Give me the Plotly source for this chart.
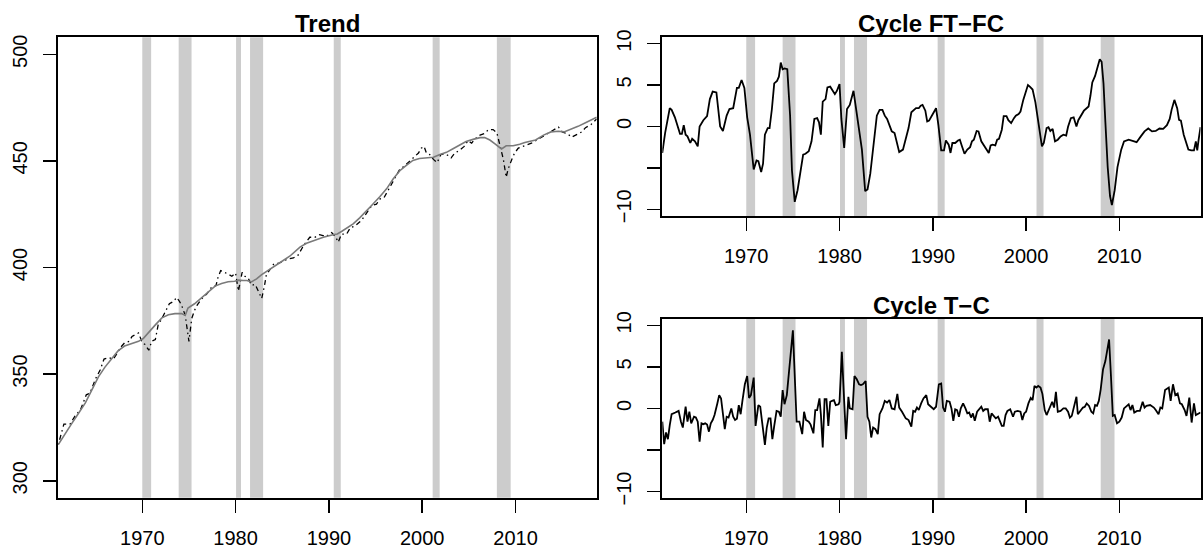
import plotly.graph_objects as go

W, H = 1203, 557

# ---------------- data ----------------
trend_years = [1961.0, 1961.7, 1962.4, 1963.1, 1963.9, 1964.6, 1965.3, 1966.0, 1966.7, 1967.4,
               1968.1, 1968.9, 1969.6, 1970.1, 1970.6, 1971.4, 1972.1, 1972.8, 1973.5, 1974.2,
               1974.6, 1974.9, 1975.6, 1976.4, 1977.1, 1977.8, 1978.5, 1979.2, 1979.9, 1980.3,
               1980.8, 1981.2, 1981.7, 1982.25, 1982.8, 1983.5, 1984.2, 1984.9, 1985.8, 1986.9,
               1987.6, 1988.3, 1989.4, 1990.45, 1990.9, 1991.35, 1991.9, 1992.6, 1993.3, 1994.0,
               1994.7, 1995.45, 1996.2, 1996.9, 1997.6, 1998.3, 1999.0, 1999.7, 2000.45, 2001.2,
               2001.9, 2002.6, 2003.3, 2004.0, 2004.7, 2005.45, 2006.2, 2006.7, 2007.25, 2007.8,
               2008.5, 2009.0, 2009.74, 2010.45, 2011.0, 2012.15, 2013.0, 2013.8, 2014.6, 2015.2,
               2015.85, 2016.7, 2017.5, 2018.1, 2018.7]
trend_values = [317.0, 322.1, 326.6, 331.2, 336.5, 342.6, 348.7, 353.3, 357.1, 360.9,
                363.2, 364.4, 365.4, 366.7, 369.3, 373.1, 376.4, 377.9, 378.4, 378.4,
                377.6, 381.0, 383.0, 386.0, 389.0, 391.3, 392.5, 393.3, 393.6, 394.1,
                393.9, 393.9, 393.3, 394.7, 396.7, 398.6, 400.8, 402.7, 405.3, 409.6,
                411.4, 412.6, 414.2, 415.4, 415.7, 416.9, 418.4, 420.5, 423.3, 426.3,
                429.7, 433.2, 437.0, 441.6, 445.4, 447.9, 450.2, 451.1, 451.4, 451.7,
                453.0, 454.0, 455.7, 457.5, 459.1, 460.1, 460.9, 461.0, 459.8, 458.0,
                455.6, 457.1, 457.1, 457.8, 458.6, 459.8, 462.1, 463.6, 463.9, 463.6,
                464.7, 466.2, 467.9, 469.2, 470.5]

obs_years = [1961.0, 1961.6, 1962.25, 1962.8, 1963.4, 1964.0, 1964.4, 1965.0, 1965.5, 1965.9,
             1966.4, 1966.9, 1967.25, 1967.7, 1968.1, 1968.6, 1968.9, 1969.3, 1969.6, 1970.0,
             1970.3, 1970.7, 1971.0, 1971.4, 1971.7, 1972.1, 1972.5, 1972.9, 1973.3, 1973.7,
             1974.0, 1974.2, 1974.6, 1974.85, 1975.0, 1975.3, 1975.6, 1975.9, 1976.4, 1976.9,
             1977.4, 1977.9, 1978.1, 1978.4, 1978.9, 1979.3, 1979.6, 1980.0, 1980.3, 1980.5,
             1980.7, 1981.0, 1981.35, 1981.7, 1982.1, 1982.5, 1982.8, 1983.1, 1983.3, 1983.8,
             1984.1, 1984.6, 1985.0, 1985.6, 1986.2, 1986.7, 1987.3, 1987.95, 1988.5, 1989.0,
             1989.7, 1990.3, 1990.74, 1991.0, 1991.35, 1991.9, 1992.3, 1992.8, 1993.5, 1994.0,
             1994.6, 1995.1, 1995.45, 1995.9, 1996.35, 1996.7, 1997.1, 1997.6, 1998.1, 1998.85,
             1999.6, 1999.9, 2000.2, 2000.45, 2000.8, 2001.2, 2001.6, 2002.0, 2002.4, 2002.8,
             2003.1, 2003.5, 2004.0, 2004.5, 2004.9, 2005.3, 2005.6, 2006.2, 2006.7, 2007.1,
             2007.6, 2008.0, 2008.3, 2008.7, 2009.0, 2009.2, 2009.6, 2009.9, 2010.3, 2010.8,
             2011.1, 2011.7, 2012.6, 2013.2, 2013.9, 2014.6, 2015.0, 2015.6, 2016.0, 2016.5,
             2017.1, 2017.5, 2018.1, 2018.7]
obs_values = [317.0, 326.6, 326.6, 330.4, 333.5, 340.3, 341.1, 347.9, 352.1, 357.1,
              357.8, 357.1, 359.4, 362.7, 364.7, 365.4, 367.7, 368.5, 369.3, 364.7,
              363.9, 361.2, 365.4, 366.2, 373.1, 376.1, 379.5, 383.0, 384.0, 386.0,
              384.0, 382.5, 377.6, 370.8, 365.4, 376.1, 379.9, 382.5, 385.5, 387.5,
              390.6, 391.6, 395.1, 398.6, 397.7, 396.7, 395.9, 397.4, 389.0, 393.6,
              397.7, 395.9, 395.1, 391.6, 392.1, 388.3, 385.5, 391.6, 396.7, 399.7,
              401.7, 402.0, 402.7, 404.0, 404.5, 405.8, 410.4, 414.2, 414.2, 415.4,
              414.5, 416.4, 414.2, 411.9, 415.7, 415.7, 418.7, 419.5, 422.1, 425.1,
              429.1, 429.7, 432.1, 432.7, 436.2, 438.8, 442.3, 446.1, 447.6, 450.7,
              453.7, 456.0, 456.8, 453.7, 453.0, 450.7, 449.2, 453.0, 453.4, 452.5,
              451.4, 453.7, 454.9, 456.8, 459.5, 458.3, 460.1, 462.1, 462.9, 464.7,
              464.7, 463.2, 457.5, 450.7, 442.3, 446.1, 450.7, 453.7, 456.0, 456.8,
              457.6, 458.3, 460.6, 462.1, 463.9, 465.9, 463.6, 462.6, 461.1, 462.1,
              463.6, 465.6, 467.1, 469.7]

ftfc_years = [1961.0, 1961.3, 1961.8, 1962.0, 1962.35, 1962.75, 1962.9, 1963.1, 1963.3, 1963.5,
              1963.7, 1964.0, 1964.2, 1964.5, 1964.8, 1965.0, 1965.4, 1965.8, 1966.1, 1966.4,
              1966.8, 1967.2, 1967.5, 1967.9, 1968.2, 1968.6, 1969.0, 1969.2, 1969.5, 1969.8,
              1970.1, 1970.4, 1970.8, 1971.1, 1971.3, 1971.6, 1971.8, 1972.0, 1972.3, 1972.5,
              1972.75, 1973.0, 1973.3, 1973.5, 1973.7, 1973.9, 1974.1, 1974.4, 1974.7, 1974.9,
              1975.2, 1975.5, 1975.8, 1976.1, 1976.35, 1976.7, 1977.0, 1977.3, 1977.6, 1977.8,
              1978.0, 1978.2, 1978.5, 1978.7, 1979.0, 1979.2, 1979.5, 1979.7, 1980.0, 1980.2,
              1980.5, 1980.8, 1981.1, 1981.5, 1981.8, 1982.1, 1982.4, 1982.75, 1983.0, 1983.3,
              1983.6, 1984.0, 1984.3, 1984.6, 1984.85, 1985.1, 1985.4, 1985.6, 1985.9, 1986.2,
              1986.4, 1986.8, 1987.1, 1987.4, 1987.7, 1988.0, 1988.2, 1988.5, 1988.7, 1988.9,
              1989.2, 1989.4, 1989.6, 1990.0, 1990.35, 1990.6, 1990.9, 1991.2, 1991.4, 1991.7,
              1991.9, 1992.1, 1992.4, 1992.7, 1992.9, 1993.1, 1993.4, 1993.7, 1994.0, 1994.2,
              1994.4, 1994.7, 1994.9, 1995.2, 1995.5, 1995.7, 1996.0, 1996.2, 1996.4, 1996.7,
              1996.9, 1997.1, 1997.4, 1997.6, 1997.9, 1998.1, 1998.4, 1998.7, 1998.9, 1999.2,
              1999.4, 1999.7, 1999.9, 2000.2, 2000.4, 2000.7, 2001.0, 2001.25, 2001.5, 2001.7,
              2001.9, 2002.2, 2002.4, 2002.6, 2002.85, 2003.1, 2003.4, 2003.7, 2004.0, 2004.3,
              2004.5, 2004.8, 2005.1, 2005.4, 2005.6, 2005.9, 2006.2, 2006.4, 2006.7, 2006.9,
              2007.1, 2007.4, 2007.7, 2007.9, 2008.1, 2008.3, 2008.5, 2008.75, 2009.0, 2009.2,
              2009.5, 2009.8, 2010.2, 2010.5, 2011.0, 2011.4, 2011.85, 2012.3, 2012.7, 2013.1,
              2013.5, 2013.9, 2014.3, 2014.7, 2015.1, 2015.4, 2015.6, 2015.9, 2016.2, 2016.4,
              2016.6, 2016.9, 2017.2, 2017.4, 2017.7, 2018.0, 2018.2, 2018.35, 2018.5, 2018.7]
ftfc_values = [-3.2, -0.8, 2.2, 2.0, 1.1, -0.2, -0.9, -0.9, 0.15, -1.0,
               -1.2, -2.0, -1.5, -1.8, -2.4, 0.0, 0.75, 1.25, 3.3, 4.2,
               4.1, 0.0, -0.55, 1.3, 2.1, 2.2, 4.65, 4.65, 5.6, 4.65,
               1.1, -1.0, -5.2, -4.1, -4.2, -5.5, -4.5, -1.0, -0.2, -0.2,
               2.1, 5.2, 5.5, 6.0, 7.7, 6.9, 7.0, 6.9, 1.3, -5.3,
               -9.1, -7.7, -5.7, -3.4, -3.3, -3.0, -1.8, 0.9, 1.0, 0.5,
               -1.0, 3.0, 3.3, 4.7, 4.8, 4.45, 3.9, 4.25, 5.1, 0.9,
               -2.6, 2.1, 2.6, 4.3, 1.7, -0.2, -2.8, -7.8, -7.6, -5.7,
               -2.6, 1.3, 2.0, 2.0, 1.3, 0.9, 0.0, -0.6, -0.8, -2.4,
               -3.1, -2.8, -1.6, -0.2, 1.7, 2.0, 2.2, 2.2, 2.5, 2.6,
               1.9, 0.6, 0.7, 1.5, 2.2, 0.15, -2.9, -2.9, -1.7, -2.2,
               -3.2, -2.0, -2.0, -1.7, -1.6, -2.3, -3.3, -2.8, -2.5, -1.8,
               -1.6, -0.55, -0.6, -1.8, -2.3, -2.7, -3.2, -2.3, -2.2, -2.3,
               -1.6, -1.5, -0.4, 1.25, 1.25, 0.75, 0.4, 1.0, 1.3, 1.5,
               1.8, 3.2, 3.9, 5.0, 4.8, 4.45, 2.9, 0.9, -1.2, -2.4,
               -2.0, -0.2, -0.1, -0.55, -0.3, -1.8, -1.6, -1.2, -1.0, -1.1,
               -0.05, 1.0, 1.1, 0.0, 0.75, 1.4, 1.9, 2.1, 2.4, 3.7,
               5.3, 6.1, 7.2, 8.1, 7.8, 5.2, 0.55, -4.9, -8.4, -9.5,
               -7.7, -4.9, -2.8, -1.8, -1.6, -1.7, -1.9, -1.2, -0.6, -0.25,
               -0.6, -0.55, -0.25, -0.3, 0.15, 0.9, 2.0, 3.2, 2.2, 0.8,
               0.7, -1.0, -2.0, -2.8, -2.9, -2.9, -1.8, -2.9, -1.6, -0.1]

tc_years = [1961.0, 1961.2, 1961.4, 1961.6, 1961.8, 1962.0, 1962.4, 1962.75, 1963.0, 1963.2,
            1963.5, 1963.7, 1963.9, 1964.1, 1964.4, 1964.6, 1964.8, 1965.0, 1965.2, 1965.4,
            1965.6, 1965.8, 1966.0, 1966.2, 1966.4, 1966.6, 1966.9, 1967.1, 1967.3, 1967.5,
            1967.7, 1967.9, 1968.1, 1968.4, 1968.6, 1968.8, 1969.0, 1969.2, 1969.4, 1969.6,
            1969.85, 1970.1, 1970.3, 1970.5, 1970.8, 1971.0, 1971.3, 1971.5, 1971.7, 1972.0,
            1972.2, 1972.4, 1972.6, 1972.8, 1973.0, 1973.25, 1973.5, 1973.7, 1973.9, 1974.1,
            1974.35, 1974.6, 1974.8, 1975.0, 1975.2, 1975.4, 1975.7, 1976.0, 1976.2, 1976.4,
            1976.7, 1976.9, 1977.2, 1977.4, 1977.6, 1977.85, 1978.0, 1978.2, 1978.4, 1978.6,
            1978.8, 1979.0, 1979.2, 1979.4, 1979.6, 1979.9, 1980.0, 1980.25, 1980.5, 1980.7,
            1980.95, 1981.1, 1981.4, 1981.6, 1981.85, 1982.1, 1982.3, 1982.5, 1982.8, 1983.0,
            1983.2, 1983.4, 1983.6, 1983.85, 1984.1, 1984.3, 1984.6, 1984.85, 1985.1, 1985.35,
            1985.6, 1985.9, 1986.2, 1986.4, 1986.7, 1986.9, 1987.1, 1987.4, 1987.7, 1987.9,
            1988.1, 1988.3, 1988.5, 1988.75, 1989.0, 1989.3, 1989.5, 1989.8, 1990.1, 1990.35,
            1990.65, 1990.9, 1991.1, 1991.3, 1991.5, 1991.8, 1992.0, 1992.2, 1992.4, 1992.6,
            1992.8, 1993.0, 1993.25, 1993.5, 1993.7, 1993.9, 1994.1, 1994.3, 1994.5, 1994.75,
            1995.0, 1995.2, 1995.4, 1995.6, 1995.9, 1996.1, 1996.3, 1996.5, 1996.75, 1997.0,
            1997.2, 1997.4, 1997.6, 1997.8, 1998.0, 1998.3, 1998.6, 1998.8, 1999.1, 1999.4,
            1999.6, 1999.8, 2000.0, 2000.25, 2000.5, 2000.7, 2000.9, 2001.1, 2001.3, 2001.55,
            2001.75, 2002.0, 2002.2, 2002.4, 2002.6, 2002.8, 2003.0, 2003.2, 2003.4, 2003.7,
            2004.0, 2004.25, 2004.5, 2004.7, 2004.9, 2005.1, 2005.4, 2005.55, 2005.8, 2006.1,
            2006.3, 2006.5, 2006.75, 2007.0, 2007.2, 2007.4, 2007.6, 2007.8, 2008.0, 2008.25,
            2008.5, 2008.7, 2008.9, 2009.1, 2009.3, 2009.5, 2009.75, 2010.0, 2010.25, 2010.5,
            2010.75, 2011.0, 2011.2, 2011.4, 2011.6, 2011.9, 2012.2, 2012.5, 2012.7, 2012.9,
            2013.3, 2013.7, 2013.9, 2014.2, 2014.4, 2014.6, 2014.9, 2015.3, 2015.5, 2015.75,
            2016.0, 2016.25, 2016.5, 2016.7, 2017.0, 2017.2, 2017.5, 2017.75, 2018.0, 2018.2,
            2018.7]
tc_values = [-1.6, -4.3, -2.9, -3.7, -2.0, -0.7, -0.5, -0.3, -1.6, -2.3,
             0.2, -1.6, -0.4, -1.8, -1.0, -1.1, -1.6, -4.0, -1.8, -1.9,
             -1.8, -1.95, -2.8, -1.8, -1.4, -0.8, 0.6, 1.6, 1.2, -0.4,
             -2.5, -1.0, -1.1, 0.0, -1.0, -1.4, -1.25, 0.4, -0.7, 1.0,
             2.9, 3.9, 1.25, 1.6, 3.7, -2.1, 0.4, 0.2, -1.6, -4.4,
             -2.3, -1.2, -1.2, -3.7, -2.1, -0.3, -0.4, -1.0, 2.2, 0.5,
             1.6, 4.7, 7.0, 9.4, 3.9, -1.6, -1.6, -3.1, -0.4, -1.4,
             -1.6, -1.95, -3.0, -0.2, -0.2, 1.2, -0.7, -4.7, 1.1, 1.1,
             -2.1, 0.8, 0.9, 1.0, 0.4, 0.5, 0.8, 6.8, 0.8, -3.7,
             1.4, 0.0, -0.1, 3.9, 3.5, 2.9, 2.8, 2.9, 3.3, -1.0,
             -1.6, -3.5, -2.3, -2.5, -3.1, -0.7, 0.0, 0.9, 0.7, 1.0,
             0.0, -0.1, 1.75, 0.1, -0.4, -0.8, -1.2, -1.4, -2.2, -0.3,
             -0.4, 0.1, -0.2, 0.6, 1.2, 1.6, 0.5, 0.2, -0.1, 0.2,
             2.9, 3.0, 0.1, -0.4, 0.9, 0.8, 0.0, -1.5, -0.1, -0.2,
             -1.0, 0.0, 0.6, 0.0, -0.6, -0.5, -1.1, -0.6, -1.5, -0.4,
             0.0, 0.2, -0.3, -0.1, -0.1, -1.6, -0.6, -0.9, -1.2, -1.0,
             -1.5, -2.1, -2.1, -0.8, -0.3, -0.1, -1.0, -0.4, -0.3, -0.4,
             -1.4, -0.6, -0.4, 0.6, 1.25, 1.0, 2.7, 2.5, 2.7, 2.5,
             1.75, -0.2, -0.8, -0.2, 0.4, 0.8, 0.1, 2.0, -0.4, -0.3,
             0.0, 0.0, -0.4, -1.1, -0.9, 0.0, 1.4, -0.7, -0.3, 0.1,
             0.2, 0.6, 0.3, -0.4, -0.6, 0.4, 0.3, 0.9, 2.3, 4.7,
             5.7, 7.0, 8.3, 3.9, -0.9, -0.8, -1.8, -1.6, -1.1, 0.0,
             0.2, 0.5, -0.2, 0.4, -0.5, -0.3, -0.3, 0.8, 0.1, 0.3,
             0.4, 0.1, -0.2, -0.7, 0.1, 0.0, 2.2, 2.5, 0.9, 2.9,
             1.6, 1.8, 0.6, 0.5, -0.2, -0.9, 1.3, -1.7, 0.6, -0.8,
             -0.5]

rec_start = [1970.0, 1973.9, 1980.05, 1981.55, 1990.52, 2001.12, 2008.0]
rec_end = [1970.95, 1975.28, 1980.58, 1982.95, 1991.27, 2001.87, 2009.48]

x_ticks = [1970, 1980, 1990, 2000, 2010]
trend_y_ticks = [300, 350, 400, 450, 500]
cycle_y_ticks = [-10, -5, 0, 5, 10]
cycle_y_labels = ["\u221210", "", "0", "5", "10"]
panel_titles = ["Trend", "Cycle FT\u2212FC", "Cycle T\u2212C"]

# ---------------- layout geometry (pixels) ----------------
FONT = "Liberation Sans, Arial, Helvetica, sans-serif"
X_RANGE = [1961.0, 2018.7]
panels = {
    "1": dict(x0=58.3, x1=596.7, y0=31.0, y1=503.5, yr=[292.0, 508.0]),
    "2": dict(x0=662.3, x1=1200.5, y0=30.7, y1=214.3, yr=[-10.8, 10.8]),
    "3": dict(x0=662.3, x1=1200.5, y0=319.7, y1=503.8, yr=[-10.8, 10.8]),
}

fig = go.Figure()

# Trend panel
fig.add_trace(go.Scatter(x=obs_years, y=obs_values, mode="lines",
                         line=dict(color="black", width=1.3, dash="1.5px,3.5px,5px,3.5px"),
                         xaxis="x", yaxis="y", showlegend=False, hoverinfo="skip"))
fig.add_trace(go.Scatter(x=trend_years, y=trend_values, mode="lines",
                         line=dict(color="#7a7a7a", width=1.6),
                         xaxis="x", yaxis="y", showlegend=False, hoverinfo="skip"))
# Cycle panels
fig.add_trace(go.Scatter(x=ftfc_years, y=ftfc_values, mode="lines",
                         line=dict(color="black", width=1.8),
                         xaxis="x2", yaxis="y2", showlegend=False, hoverinfo="skip"))
fig.add_trace(go.Scatter(x=tc_years, y=tc_values, mode="lines",
                         line=dict(color="black", width=1.8),
                         xaxis="x3", yaxis="y3", showlegend=False, hoverinfo="skip"))

shapes = []
for key in ["1", "2", "3"]:
    xref = "x" if key == "1" else "x" + key
    yref = ("y" if key == "1" else "y" + key) + " domain"
    for s, e in zip(rec_start, rec_end):
        shapes.append(dict(type="rect", xref=xref, yref=yref, x0=s, x1=e, y0=0, y1=1,
                           fillcolor="#cccccc", line=dict(width=0), layer="below"))

layout = dict(
    width=W, height=H, autosize=False,
    margin=dict(l=0, r=0, t=0, b=0, pad=0),
    paper_bgcolor="white", plot_bgcolor="white",
    font=dict(family=FONT, size=20, color="black"),
    shapes=shapes, showlegend=False, hovermode=False,
)

for key, p in panels.items():
    xa = "xaxis" if key == "1" else "xaxis" + key
    ya = "yaxis" if key == "1" else "yaxis" + key
    anchor_y = "y" if key == "1" else "y" + key
    anchor_x = "x" if key == "1" else "x" + key
    layout[xa] = dict(
        domain=[p["x0"] / W, p["x1"] / W], anchor=anchor_y, range=X_RANGE,
        tickmode="array", tickvals=x_ticks, ticktext=[str(v) for v in x_ticks],
        ticks="outside", ticklen=13, tickwidth=1.5, tickcolor="black",
        showline=True, mirror=True, linecolor="black", linewidth=2,
        showgrid=False, zeroline=False, ticklabelstandoff=8,
        tickfont=dict(family=FONT, size=20, color="black"),
    )
    if key == "1":
        yt, ytext = trend_y_ticks, [str(v) for v in trend_y_ticks]
    else:
        yt, ytext = cycle_y_ticks, cycle_y_labels
    layout[ya] = dict(
        domain=[1 - p["y1"] / H, 1 - p["y0"] / H], anchor=anchor_x, range=p["yr"],
        tickmode="array", tickvals=yt, ticktext=ytext, tickangle=-90,
        ticks="outside", ticklen=13, tickwidth=1.5, tickcolor="black",
        showline=True, mirror=True, linecolor="black", linewidth=2,
        showgrid=False, zeroline=False, ticklabelstandoff=8,
        tickfont=dict(family=FONT, size=20, color="black"),
    )

annotations = []
title_pos = [("1", 17.0), ("2", 17.0), ("3", 305.7)]
for (key, cy), text in zip(title_pos, panel_titles):
    p = panels[key]
    annotations.append(dict(text="<b>" + text + "</b>", xref="paper", yref="paper",
                            x=(p["x0"] + p["x1"]) / 2 / W, y=1 - cy / H,
                            xanchor="center", yanchor="middle", showarrow=False,
                            font=dict(family=FONT, size=24, color="black")))
layout["annotations"] = annotations

fig.update_layout(**layout)
fig.write_html("out.html",
               config={"displayModeBar": False, "staticPlot": True},
               post_script="document.body.style.margin='0';document.body.style.overflow='hidden';")
